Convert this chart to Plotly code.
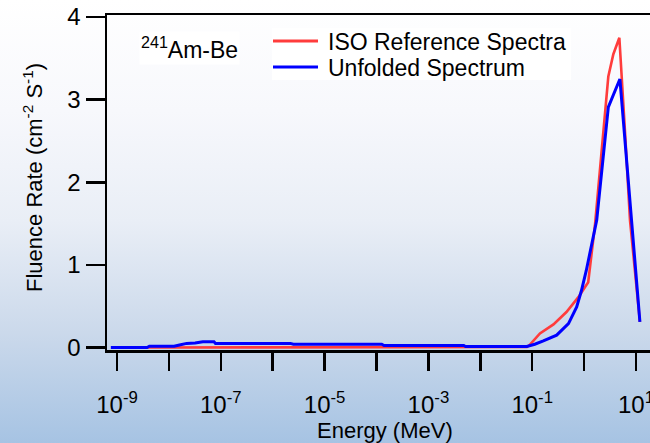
import base64
import plotly.graph_objects as go

# ---------------- data ----------------
iso_energy = [3.8e-9, 1.26e-8, 1.4e-8, 0.079, 0.089, 0.141, 0.257, 0.457, 0.776,
              1.20, 1.62, 2.19, 2.63, 2.93, 3.66, 4.78, 6.17, 7.67, 11.9]
iso_rate = [0.0, 0.0, 0.006, 0.006, 0.03, 0.17, 0.28, 0.43, 0.61,
            0.79, 1.48, 2.35, 2.95, 3.28, 3.55, 3.75, 2.59, 1.54, 0.31]

unf_energy = [7.6e-10, 3.8e-9, 4.2e-9, 1.26e-8, 1.6e-8, 2.2e-8, 3.2e-8, 4.5e-8, 7.4e-8,
              7.9e-8, 2.2e-6, 2.5e-6, 1.26e-4, 1.4e-4, 4.8e-3, 5.2e-3, 0.079, 0.112,
              0.164, 0.296, 0.50, 0.72, 0.89, 1.10, 1.75, 2.93, 4.90, 11.9]
unf_rate = [0.0, 0.0, 0.015, 0.015, 0.03, 0.05, 0.055, 0.07, 0.07,
            0.05, 0.05, 0.04, 0.04, 0.024, 0.024, 0.012, 0.012, 0.04,
            0.08, 0.15, 0.29, 0.49, 0.69, 0.93, 1.54, 2.91, 3.25, 0.31]

x_tickvals = [1e-9, 1e-7, 1e-5, 1e-3, 1e-1, 1e1]
x_ticktext = ["10<sup>-9</sup>", "10<sup>-7</sup>", "10<sup>-5</sup>",
              "10<sup>-3</sup>", "10<sup>-1</sup>", "10<sup>1</sup>"]
x_minor_tickvals = [1e-8, 1e-6, 1e-4, 1e-2, 1e0]
y_tickvals = [0, 1, 2, 3, 4]

series_names = ["ISO Reference Spectra", "Unfolded Spectrum"]
series_colors = ["#ff3c3c", "#0000ff"]
source_label = "<sup>241</sup>Am-Be"
x_title = "Energy (MeV)"
y_title = "Fluence Rate (cm<sup>-2</sup> S<sup>-1</sup>)"

# ---------------- figure ----------------
W, H = 650, 443
ML, MR, MT, MB = 107, 0, 15, 93
PW, PH = W - ML - MR, H - MT - MB
FONT = "Liberation Sans, Arial, sans-serif"


def px(x):
    return (x - ML) / PW


def py(y):
    return (H - MB - y) / PH


svg = f'''<svg xmlns="http://www.w3.org/2000/svg" width="{W}" height="{H}" viewBox="0 0 {W} {H}" preserveAspectRatio="none">
<defs><linearGradient id="g" x1="0" y1="0" x2="0" y2="1">
<stop offset="0" stop-color="#ffffff"/>
<stop offset="0.25" stop-color="#f7f8fc"/>
<stop offset="0.5" stop-color="#e9eef6"/>
<stop offset="0.75" stop-color="#cbd9eb"/>
<stop offset="1" stop-color="#a6c3e3"/>
</linearGradient></defs>
<rect x="0" y="0" width="{W}" height="{H}" fill="url(#g)"/></svg>'''
bg_src = "data:image/svg+xml;base64," + base64.b64encode(svg.encode()).decode()

fig = go.Figure()
widths = [2.6, 3]
for name, xs, ys, col, w in zip(series_names, [iso_energy, unf_energy], [iso_rate, unf_rate],
                                series_colors, widths):
    fig.add_trace(go.Scatter(x=xs, y=ys, mode="lines", name=name,
                             line=dict(color=col, width=w)))

# hand-drawn legend (white box, line samples, labels)
legend_y = [41, 67]
shapes = [dict(type="rect", xref="paper", yref="paper", x0=px(272), x1=px(571),
               y0=py(80), y1=py(28), fillcolor="white", line=dict(width=0), layer="below")]
annotations = []
for name, col, yy in zip(series_names, series_colors, legend_y):
    shapes.append(dict(type="line", xref="paper", yref="paper", x0=px(273), x1=px(318),
                       y0=py(yy), y1=py(yy), line=dict(color=col, width=3), layer="above"))
    annotations.append(dict(text=name, xref="paper", yref="paper", x=px(326), y=py(yy + 1),
                            xanchor="left", yanchor="middle", showarrow=False,
                            font=dict(size=23, family=FONT)))

annotations += [
    dict(text=source_label, xref="paper", yref="paper",
         x=px(139), y=py(48), xanchor="left", yanchor="middle",
         showarrow=False, bgcolor="white", font=dict(size=23, family=FONT)),
    dict(text=x_title, xref="paper", yref="paper",
         x=px(385), y=py(430), xanchor="center", yanchor="middle",
         showarrow=False, font=dict(size=22, family=FONT)),
    dict(text=y_title, xref="paper", yref="paper", textangle=-90,
         x=px(33), y=py(178), xanchor="center", yanchor="middle",
         showarrow=False, font=dict(size=22, family=FONT)),
]

tick_style = dict(ticks="outside", tickwidth=2.5, tickcolor="black")

fig.update_layout(
    width=W, height=H,
    margin=dict(l=ML, r=MR, t=MT, b=MB, pad=0, autoexpand=False),
    paper_bgcolor="white",
    plot_bgcolor="rgba(0,0,0,0)",
    font=dict(family=FONT, color="black"),
    showlegend=False,
    hovermode=False,
    images=[dict(source=bg_src, xref="paper", yref="paper",
                 x=-ML / PW, y=1 + MT / PH, sizex=W / PW, sizey=H / PH,
                 xanchor="left", yanchor="top", sizing="stretch", layer="below")],
    xaxis=dict(type="log", range=[-9.193, 1.27], showgrid=False, zeroline=False,
               showline=True, linecolor="black", linewidth=2.5, mirror=True,
               ticklen=18, **tick_style, ticklabeloverflow="allow", ticklabelstandoff=14,
               tickmode="array", tickvals=x_tickvals, ticktext=x_ticktext, automargin=False,
               minor=dict(tickmode="array", tickvals=x_minor_tickvals, ticklen=18,
                          showgrid=False, **tick_style),
               tickfont=dict(size=24, family=FONT)),
    yaxis=dict(range=[-0.03, 4.025], showgrid=False, zeroline=False,
               showline=True, linecolor="black", linewidth=2.5,
               ticklen=19, **tick_style, ticklabeloverflow="allow",
               tickmode="array", tickvals=y_tickvals, automargin=False,
               tickfont=dict(size=24, family=FONT)),
    shapes=shapes,
    annotations=annotations,
)

fig.write_html("out.html", config={"displayModeBar": False, "staticPlot": True},
               post_script="document.body.style.margin='0';document.body.style.overflow='hidden';")
